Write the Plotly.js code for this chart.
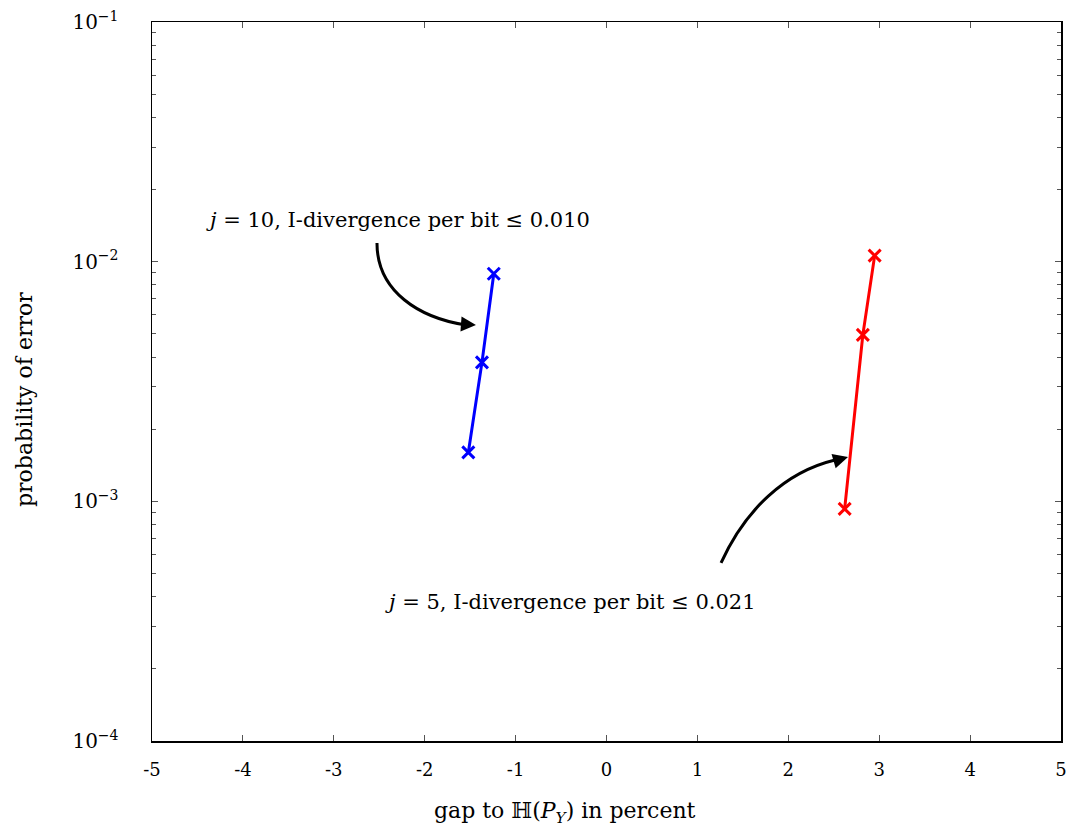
<!DOCTYPE html>
<html>
<head>
<meta charset="utf-8">
<script src="https://cdn.plot.ly/plotly-3.0.1.min.js"></script>
<style>html,body{margin:0;padding:0;background:#fff;}#chart{width:1071px;height:832px;}</style>
</head>
<body>
<div id="chart"></div>
<script>
// Data
const blueX = [-1.52, -1.37, -1.24];
const blueY = [1.6e-3, 3.8e-3, 8.9e-3];
const redX = [2.62, 2.82, 2.95];
const redY = [9.3e-4, 4.95e-3, 1.06e-2];

const xTickVals = [-5, -4, -3, -2, -1, 0, 1, 2, 3, 4, 5];
const xTickText = ["-5", "-4", "-3", "-2", "-1", "0", "1", "2", "3", "4", "5"];
const yTickVals = [1e-4, 1e-3, 1e-2, 1e-1];
const yTickText = ["10<sup>−4</sup>", "10<sup>−3</sup>", "10<sup>−2</sup>", "10<sup>−1</sup>"];
const yMinorVals = [];
[1e-4, 1e-3, 1e-2].forEach(d => { for (let k = 2; k <= 9; k++) yMinorVals.push(k * d); });

const labelBlue = "<i>j</i> = 10, I-divergence per bit ≤ 0.010";
const labelRed = "<i>j</i> = 5, I-divergence per bit ≤ 0.021";
const xTitle = "gap to ℍ(<i>P<sub>Y</sub></i>) in percent";
const yTitle = "probability of error";

const FONT = "DejaVu Serif, Liberation Serif, serif";

const traces = [
  {x: blueX, y: blueY, mode: 'lines+markers', type: 'scatter',
   line: {color: '#0000ff', width: 3},
   marker: {symbol: 'x-thin', size: 12, line: {color: '#0000ff', width: 3}}},
  {x: redX, y: redY, mode: 'lines+markers', type: 'scatter',
   line: {color: '#ff0000', width: 3},
   marker: {symbol: 'x-thin', size: 12, line: {color: '#ff0000', width: 3}}}
];

const layout = {
  width: 1071, height: 832,
  margin: {l: 152, r: 10, t: 22, b: 91},
  paper_bgcolor: '#fff', plot_bgcolor: '#fff',
  showlegend: false,
  font: {family: FONT, size: 17, color: '#000'},
  xaxis: {
    range: [-5, 5], tickmode: 'array', tickvals: xTickVals, ticktext: xTickText,
    ticks: 'inside', ticklen: 6, tickcolor: '#555', tickwidth: 1,
    showline: true, linecolor: '#000', linewidth: 1.5, mirror: 'allticks',
    showgrid: false, zeroline: false, ticklabelstandoff: 12,
    tickfont: {family: FONT, size: 18}
  },
  yaxis: {
    type: 'log', range: [-4, -1], tickmode: 'array', tickvals: yTickVals, ticktext: yTickText,
    ticks: 'inside', ticklen: 6, tickcolor: '#555', tickwidth: 1,
    showline: true, linecolor: '#000', linewidth: 1.5, mirror: 'allticks',
    showgrid: false, zeroline: false, ticklabelstandoff: 28,
    tickfont: {family: FONT, size: 20},
    minor: {tickmode: 'array', tickvals: yMinorVals, ticks: 'inside', ticklen: 4, tickcolor: '#555', showgrid: false}
  },
  shapes: [
    {type: 'path', xref: 'paper', yref: 'paper',
     path: 'M 0.2475 0.6926 C 0.2475 0.6245 0.2948 0.5883 0.3454 0.5786',
     line: {color: '#000', width: 3}},
    {type: 'path', xref: 'paper', yref: 'paper',
     path: 'M 0.626 0.2476 C 0.6524 0.3213 0.6964 0.3741 0.7514 0.3908',
     line: {color: '#000', width: 3}}
  ],
  annotations: [
    {xref: 'paper', yref: 'paper', x: 0.3564, y: 0.5786, ax: -14, ay: -1,
     showarrow: true, arrowhead: 2, arrowsize: 1.2, arrowwidth: 2.5, arrowcolor: '#000', text: ''},
    {xref: 'paper', yref: 'paper', x: 0.7657, y: 0.395, ax: -14, ay: 4,
     showarrow: true, arrowhead: 2, arrowsize: 1.2, arrowwidth: 2.5, arrowcolor: '#000', text: ''},
    {xref: 'paper', yref: 'paper', x: (398 - 152) / 909, y: (741 - 220) / 719,
     text: labelBlue, showarrow: false, font: {family: FONT, size: 21}, xanchor: 'center', yanchor: 'middle'},
    {xref: 'paper', yref: 'paper', x: (570 - 152) / 909, y: (741 - 602) / 719,
     text: labelRed, showarrow: false, font: {family: FONT, size: 21}, xanchor: 'center', yanchor: 'middle'},
    {xref: 'paper', yref: 'paper', x: (565 - 152) / 909, y: (741 - 812) / 719,
     text: xTitle, showarrow: false, font: {family: FONT, size: 22}, xanchor: 'center', yanchor: 'middle'},
    {xref: 'paper', yref: 'paper', x: (25 - 152) / 909, y: (741 - 400) / 719, textangle: -90,
     text: yTitle, showarrow: false, font: {family: FONT, size: 22}, xanchor: 'center', yanchor: 'middle'}
  ]
};

Plotly.newPlot('chart', traces, layout, {displayModeBar: false, staticPlot: true});
</script>
</body>
</html>
